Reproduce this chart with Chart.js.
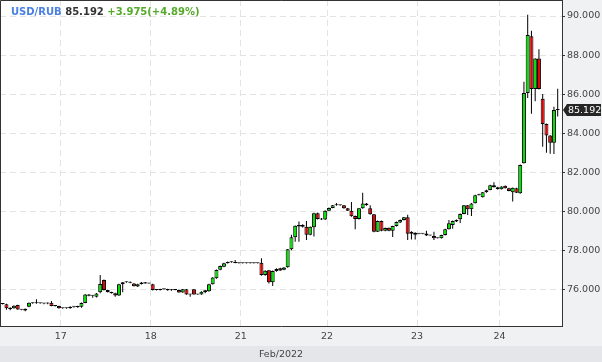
<!DOCTYPE html>
<html>
<head>
<meta charset="utf-8">
<script src="https://cdn.jsdelivr.net/npm/chart.js"></script>
<style>
html,body{margin:0;padding:0;background:#f0f1f3;}
#wrap{position:relative;width:602px;height:362px;}
#title{position:absolute;left:11px;top:6px;font:bold 10px 'DejaVu Sans',sans-serif;white-space:nowrap;line-height:12px;}
</style>
</head>
<body>
<div id="wrap">
<canvas id="c" width="602" height="362"></canvas>
<div id="title"><span style="color:#4a7fe3">USD/RUB</span> <span style="color:#333">85.192</span> <span style="color:#55aa2a">+3.975(+4.89%)</span></div>
</div>
<script>
// Day labels on the x axis and the index of the first hourly candle of each day
const dayLabels = ['17', '18', '21', '22', '23', '24'];
const dayStartIndex = [16, 40, 64, 87, 111, 133];
const priceTicks = [76, 78, 80, 82, 84, 86, 88, 90];
const axisTitle = 'Feb/2022';
const lastPriceText = '85.192';

// Hourly USD/RUB candles (open / high / low / close)
const openValues = [
75.25,75.23,75.06,75.03,75.19,74.95,74.92,75.11,75.31,75.28,
75.28,75.28,75.27,75.31,75.15,75.14,75.03,75.03,75.03,75.10,
75.08,75.10,75.30,75.74,75.67,75.62,75.85,76.48,75.96,75.86,
75.80,75.68,76.26,76.36,76.38,76.30,76.14,76.27,76.36,76.30,
76.26,75.96,75.96,76.00,76.01,75.95,75.97,75.97,75.84,76.00,
75.74,76.00,75.74,75.74,75.86,75.90,76.26,76.56,77.00,77.15,
77.34,77.40,77.38,77.34,77.34,77.34,77.34,77.34,77.34,77.36,
76.73,76.97,76.36,76.94,77.08,77.00,77.13,78.05,78.67,79.22,
79.30,79.20,78.80,79.18,79.90,79.60,79.57,80.03,80.17,80.30,
80.30,80.30,80.15,80.03,79.76,79.60,80.15,80.40,80.15,79.84,
78.95,79.50,79.00,79.15,79.00,79.24,79.42,79.55,79.69,78.84,
78.90,78.84,78.84,78.86,78.75,78.73,78.62,78.62,78.78,79.08,
79.30,79.55,79.59,79.86,80.30,80.10,80.41,80.82,80.72,80.97,
81.09,81.33,81.23,81.13,81.30,81.18,80.97,81.18,80.92,82.46,
86.05,88.96,86.26,87.82,85.76,84.47,83.88,83.51,85.19
];
const highValues = [
75.28,75.26,75.08,75.18,75.21,74.97,75.02,75.33,75.33,75.49,
75.30,75.30,75.33,75.40,75.17,75.16,75.05,75.05,75.13,75.12,
75.16,75.32,75.76,75.76,75.69,75.81,76.73,76.50,75.98,75.88,
75.82,76.28,76.38,76.40,76.40,76.32,76.28,76.37,76.38,76.32,
76.28,75.98,76.03,76.02,76.03,76.01,75.99,75.99,76.02,76.02,
75.76,76.02,75.76,75.90,75.97,76.28,76.62,77.01,77.22,77.36,
77.42,77.42,77.50,77.36,77.36,77.36,77.36,77.36,77.36,77.59,
76.97,76.99,76.96,77.08,77.10,77.14,78.07,78.80,79.27,79.47,
79.33,79.50,79.22,79.92,79.93,79.65,80.05,80.19,80.32,80.42,
80.32,80.32,80.17,80.47,79.78,80.17,80.95,80.42,80.30,79.86,
79.52,79.52,79.16,79.17,79.26,79.47,79.57,79.71,79.82,78.97,
78.92,78.86,78.86,79.00,78.77,78.95,78.64,78.80,79.10,79.55,
79.52,79.57,79.88,80.32,80.32,80.42,80.84,80.90,80.99,81.10,
81.35,81.48,81.25,81.28,81.32,81.20,81.22,81.20,82.39,86.63,
90.07,89.25,87.84,88.30,86.00,84.49,83.90,85.35,86.27
];
const lowValues = [
75.22,74.95,74.93,75.00,74.95,74.93,74.87,75.08,75.26,75.26,
75.26,75.24,75.24,75.13,75.12,75.01,75.01,75.01,75.01,75.05,
75.06,75.06,75.28,75.65,75.57,75.58,75.80,75.94,75.84,75.78,
75.62,75.66,75.85,76.34,76.31,76.14,76.12,76.25,76.28,76.28,
75.94,75.94,75.94,75.98,75.93,75.93,75.95,75.82,75.82,75.72,
75.62,75.72,75.72,75.72,75.80,75.88,76.24,76.54,76.98,77.13,
77.32,77.36,77.33,77.32,77.32,77.32,77.32,77.32,77.32,76.70,
76.70,76.30,76.17,76.90,76.94,76.97,77.10,78.00,78.44,78.44,
79.17,78.52,78.77,78.70,79.57,79.55,79.55,80.00,80.15,80.28,
80.28,80.13,80.01,79.72,79.08,79.58,80.13,80.28,79.82,78.92,
78.93,78.98,78.98,78.98,78.68,79.22,79.40,79.53,78.52,78.55,
78.55,78.82,78.82,78.73,78.73,78.52,78.60,78.60,78.76,79.06,
79.10,79.45,79.40,79.84,79.80,79.75,80.39,80.80,80.70,80.95,
81.07,81.21,81.11,81.11,81.16,81.02,80.50,80.93,80.90,82.44,
85.80,84.99,85.63,86.24,83.30,83.00,82.95,82.93,84.85
];
const closeValues = [
75.25,75.03,74.99,75.16,74.97,74.95,75.00,75.31,75.28,75.28,
75.28,75.27,75.31,75.15,75.15,75.03,75.03,75.03,75.11,75.10,
75.14,75.30,75.74,75.67,75.67,75.79,76.27,75.96,75.86,75.80,
75.68,76.26,76.36,76.36,76.33,76.16,76.26,76.35,76.30,76.30,
75.96,75.96,76.01,76.00,75.95,75.99,75.97,75.84,76.00,75.74,
75.74,75.74,75.74,75.88,75.95,76.26,76.60,76.99,77.20,77.34,
77.40,77.38,77.35,77.34,77.34,77.34,77.34,77.34,77.34,76.73,
76.95,76.36,76.94,77.04,76.96,77.12,78.05,78.67,79.25,79.30,
79.20,78.80,79.20,79.90,79.60,79.57,80.03,80.17,80.30,80.33,
80.30,80.15,80.03,79.74,79.60,80.15,80.40,80.30,79.84,78.95,
79.50,79.00,79.14,79.00,79.24,79.45,79.55,79.69,78.84,78.95,
78.80,78.84,78.84,78.75,78.75,78.62,78.62,78.78,79.08,79.38,
79.50,79.47,79.86,80.30,80.10,80.40,80.82,80.82,80.97,81.08,
81.33,81.23,81.13,81.26,81.18,81.04,81.20,80.95,82.37,86.05,
89.03,86.26,87.82,86.26,84.47,83.88,83.51,85.19,85.192
];

const UP = '#00e400';
const DOWN = '#e80000';
const FONT = {family: "'DejaVu Sans', sans-serif", size: 9.5};
const GRID = '#e3e3e3';
const AXIS = '#333333';

const idx = closeValues.map((_, i) => i);
const bodyData = idx.map(i => ({x: i, y: [Math.min(openValues[i], closeValues[i]), Math.max(openValues[i], closeValues[i])]}));
const wickData = idx.map(i => ({x: i, y: [lowValues[i], highValues[i]]}));
const bodyColors = idx.map(i => closeValues[i] > openValues[i] ? UP : (closeValues[i] < openValues[i] ? DOWN : '#000'));

const framePlugin = {
  id: 'frame',
  beforeDraw(chart) {
    const {ctx, chartArea: a, width, height} = chart;
    ctx.save();
    ctx.fillStyle = '#f0f1f3';
    ctx.fillRect(0, 0, width, height);
    ctx.fillStyle = '#e4e6ea';
    ctx.fillRect(0, 346, width, height - 346);
    ctx.fillStyle = '#ffffff';
    ctx.fillRect(a.left, a.top, a.right - a.left, a.bottom - a.top);
    ctx.restore();
  },
  afterDraw(chart) {
    const {ctx, chartArea: a} = chart;
    ctx.save();
    ctx.strokeStyle = AXIS;
    ctx.lineWidth = 1;
    ctx.beginPath();
    ctx.moveTo(a.left + 0.5, a.bottom);
    ctx.lineTo(a.left + 0.5, a.top + 0.5);
    ctx.lineTo(a.right, a.top + 0.5);
    ctx.stroke();
    // last price tag
    const y = Math.round(chart.scales.y.getPixelForValue(closeValues[closeValues.length - 1]));
    ctx.fillStyle = '#262626';
    ctx.beginPath();
    ctx.moveTo(a.right + 1, y);
    ctx.lineTo(a.right + 5, y - 6);
    ctx.lineTo(601, y - 6);
    ctx.lineTo(601, y + 6);
    ctx.lineTo(a.right + 5, y + 6);
    ctx.closePath();
    ctx.fill();
    ctx.fillStyle = '#ffffff';
    ctx.font = "9.5px 'DejaVu Sans', sans-serif";
    ctx.textBaseline = 'middle';
    ctx.textAlign = 'left';
    ctx.fillText(lastPriceText, a.right + 6, y + 0.5);
    ctx.restore();
  }
};

new Chart(document.getElementById('c'), {
  type: 'bar',
  data: {
    datasets: [
      {
        label: 'body',
        data: bodyData,
        backgroundColor: bodyColors,
        borderColor: '#000',
        borderWidth: 1,
        borderSkipped: false,
        barThickness: 4,
        minBarLength: 1,
        grouped: false,
        inflateAmount: 0,
        order: 0
      },
      {
        label: 'wick',
        data: wickData,
        backgroundColor: '#000',
        borderWidth: 0,
        barThickness: 1,
        grouped: false,
        inflateAmount: 0,
        order: 1
      }
    ]
  },
  options: {
    responsive: false,
    animation: false,
    devicePixelRatio: 1,
    layout: {padding: 0},
    plugins: {legend: {display: false}, tooltip: {enabled: false}},
    scales: {
      x: {
        type: 'linear',
        position: 'bottom',
        bounds: 'data',
        min: -0.72,
        max: 149.15,
        offset: false,
        afterBuildTicks(s) { s.ticks = dayStartIndex.map(i => ({value: i - 0.5})); },
        afterFit(s) { s.height = 36; s.paddingLeft = 0; s.paddingRight = 0; },
        ticks: {autoSkip: false, maxRotation: 0, minRotation: 0, padding: 5, font: FONT, color: '#444',
          callback: (v, i) => dayLabels[i]},
        grid: {offset: false, color: GRID, drawTicks: false},
        border: {display: true, color: AXIS, width: 1, dash: [6, 4]},
        title: {display: true, text: axisTitle, font: FONT, color: '#444', padding: {top: 0, bottom: 2}}
      },
      y: {
        type: 'linear',
        position: 'right',
        bounds: 'data',
        min: 74.12,
        max: 90.82,
        afterBuildTicks(s) { s.ticks = priceTicks.map(v => ({value: v})); },
        afterFit(s) { s.width = 40; s.paddingTop = 0; s.paddingBottom = 0; },
        ticks: {autoSkip: false, padding: 2, font: FONT, color: '#444',
          callback: v => Number(v).toFixed(3)},
        grid: {color: GRID, drawTicks: true, tickLength: 3, tickColor: AXIS},
        border: {display: true, color: AXIS, width: 1, dash: [6, 4]}
      }
    }
  },
  plugins: [framePlugin]
});
</script>
</body>
</html>
